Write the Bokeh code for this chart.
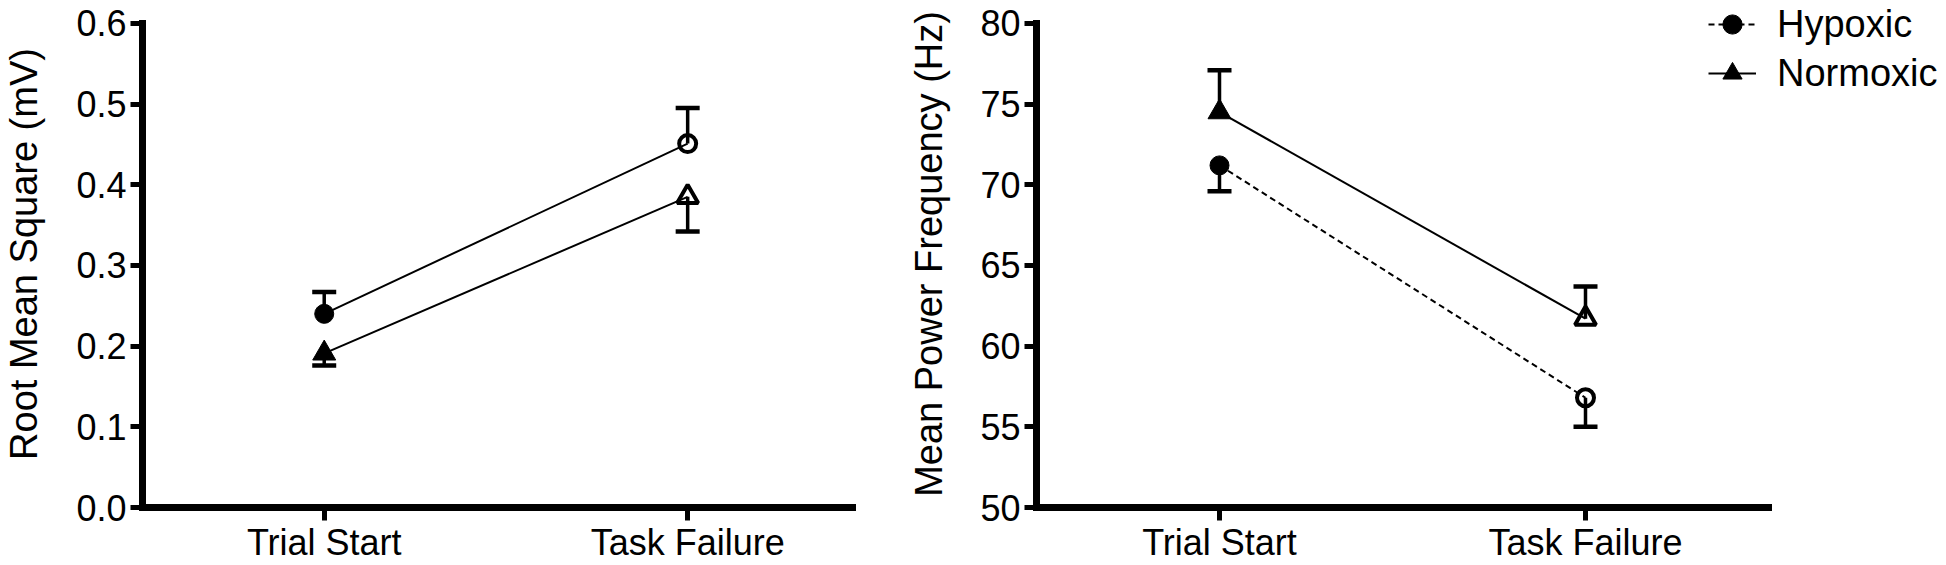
from bokeh.plotting import figure
from bokeh.models import Range1d, FixedTicker, Legend, LegendItem
from bokeh.layouts import row
from bokeh.embed import file_html
from bokeh.resources import INLINE

# ---------------- data ----------------
categories = ["Trial Start", "Task Failure"]
series_names = ["Hypoxic", "Normoxic"]

rms_hypoxic = [0.240, 0.451]
rms_hypoxic_sem = [0.027, 0.044]
rms_normoxic = [0.191, 0.385]
rms_normoxic_sem = [0.015, 0.043]
rms_ticks = [0.0, 0.1, 0.2, 0.3, 0.4, 0.5, 0.6]
rms_tick_labels = ["0.0", "0.1", "0.2", "0.3", "0.4", "0.5", "0.6"]

mpf_hypoxic = [71.2, 56.8]
mpf_hypoxic_sem = [1.6, 1.8]
mpf_normoxic = [74.5, 61.7]
mpf_normoxic_sem = [2.6, 2.0]
mpf_ticks = [50, 55, 60, 65, 70, 75, 80]
mpf_tick_labels = ["50", "55", "60", "65", "70", "75", "80"]

# x positions of the categories on a numeric scale (1, 2, ...)
xs = [i + 1 for i in range(len(categories))]

FONT = "Liberation Sans"
H = 565
TOP = 23          # px from canvas top to the top of the y axis
BOTTOM = 55       # px from the x axis to canvas bottom
AXIS_H = H - TOP - BOTTOM
PX_PER_CAT = 366  # horizontal px between neighbouring categories


def style_axes(p, ylabel, label_standoff, xb, yb):
    for ax in (p.xaxis[0], p.yaxis[0]):
        ax.axis_line_width = 7
        ax.axis_line_color = "black"
        ax.axis_line_cap = "square"
        ax.major_tick_line_width = 5
        ax.major_tick_line_color = "black"
        ax.major_tick_in = 0
        ax.minor_tick_line_color = None
        ax.major_label_text_font = FONT
        ax.major_label_text_font_size = "36px"
        ax.major_label_text_color = "black"
    p.xaxis.bounds = xb
    p.yaxis.bounds = yb
    p.xaxis.ticker = FixedTicker(ticks=xs, minor_ticks=[])
    p.xaxis.major_label_overrides = {x: c for x, c in zip(xs, categories)}
    p.xaxis.major_tick_out = 13
    p.xaxis.major_label_standoff = 1
    p.yaxis.major_tick_out = 12
    p.yaxis.major_label_standoff = 4
    p.yaxis.axis_label = ylabel
    p.yaxis.axis_label_text_font = FONT
    p.yaxis.axis_label_text_font_size = "38px"
    p.yaxis.axis_label_text_font_style = "normal"
    p.yaxis.axis_label_text_color = "black"
    p.yaxis.axis_label_standoff = label_standoff
    p.xgrid.visible = False
    p.ygrid.visible = False
    p.outline_line_color = None


def draw_series(p, vals, sems, direction, marker, dash):
    r_line = p.line(x=xs, y=vals, line_color="black", line_width=2,
                    line_dash=dash)
    ends = [v + direction * e for v, e in zip(vals, sems)]
    p.segment(x0=xs, y0=vals, x1=xs, y1=ends,
              line_color="black", line_width=3.5)
    p.scatter(x=xs, y=ends, marker="dash", size=24,
              line_color="black", line_width=4.5)
    big = 19 if marker == "circle" else 23
    small = 17 if marker == "circle" else 21
    r_fill = p.scatter(x=xs[:1], y=vals[:1], marker=marker, size=big,
                       fill_color="black", line_color="black", line_width=1)
    p.scatter(x=xs[1:], y=vals[1:], marker=marker, size=small,
              fill_color=None, line_color="black", line_width=4)
    return r_line, r_fill


def make_panel(width, min_left, min_right, frame_w, axis_w, ticks, labels,
               ylabel, label_standoff,
               hyp, hyp_sem, hyp_dir, nor, nor_sem, nor_dir, hyp_dash):
    # the frame fills the canvas top (and, if wanted, its right side);
    # axis lines are limited with bounds to the reference's axis box
    x_end = 0.5 + frame_w / PX_PER_CAT
    x_axis_end = 0.5 + axis_w / PX_PER_CAT
    y_lo, y_hi = ticks[0], ticks[-1]
    y_end = y_hi + (y_hi - y_lo) * TOP / AXIS_H
    p = figure(x_range=Range1d(0.5, x_end), y_range=Range1d(y_lo, y_end),
               width=width, height=H, min_border_left=min_left,
               min_border_right=min_right, min_border_top=0,
               min_border_bottom=BOTTOM, output_backend="svg",
               toolbar_location=None, title_location=None)
    p.yaxis.ticker = FixedTicker(ticks=ticks, minor_ticks=[])
    p.yaxis.major_label_overrides = {t: l for t, l in zip(ticks, labels)}
    style_axes(p, ylabel, label_standoff, (0.5, x_axis_end), (y_lo, y_hi))
    hyp_r = draw_series(p, hyp, hyp_sem, hyp_dir, "circle", hyp_dash)
    nor_r = draw_series(p, nor, nor_sem, nor_dir, "triangle", "solid")
    return p, hyp_r, nor_r


# left panel: canvas 0..890, axis box 137..852
p1, _, _ = make_panel(890, 137, 38, 715, 715, rms_ticks, rms_tick_labels,
                      "Root Mean Square (mV)", 28,
                      rms_hypoxic, rms_hypoxic_sem, 1,
                      rms_normoxic, rms_normoxic_sem, -1, "solid")

# right panel: canvas 890..1946, axis box 1036..1768; frame runs to the
# canvas right edge so that the legend (drawn in the frame) is not clipped.
p2, hyp_r, nor_r = make_panel(1056, 146, 0, 1056 - 146, 732,
                              mpf_ticks, mpf_tick_labels,
                              "Mean Power Frequency (Hz)", 27,
                              mpf_hypoxic, mpf_hypoxic_sem, -1,
                              mpf_normoxic, mpf_normoxic_sem, 1, "6 4")

legend = Legend(
    items=[LegendItem(label=series_names[0], renderers=list(hyp_r)),
           LegendItem(label=series_names[1], renderers=list(nor_r))],
    location=(672, H - BOTTOM - 100), glyph_width=48, glyph_height=48,
    label_standoff=21, spacing=1, padding=0, margin=0,
    border_line_color=None, background_fill_alpha=0, label_text_font=FONT,
    label_text_font_size="38px", label_text_color="black")
p2.add_layout(legend)

layout = row(p1, p2)
open("out.html", "w").write(file_html(layout, INLINE))
